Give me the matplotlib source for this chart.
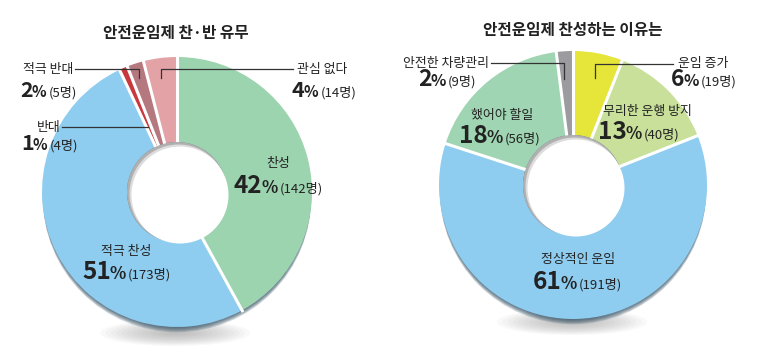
import numpy as np
import matplotlib
matplotlib.use("Agg")
import matplotlib.pyplot as plt
from matplotlib.patches import Ellipse, Circle

plt.rcParams['font.family'] = ['Noto Sans CJK KR', 'DejaVu Sans']

# ---------------- data ----------------
left_title = '안전운임제 찬·반 유무'
left_labels = ['찬성', '적극 찬성', '반대', '적극 반대', '관심 없다']
left_pct = [42, 51, 1, 2, 4]
left_counts = [142, 173, 4, 5, 14]
left_colors = ['#9dd4b0', '#8fcdf0', '#c8383c', '#b5787f', '#e3a3a6']

right_title = '안전운임제 찬성하는 이유는'
right_labels = ['운임 증가', '무리한 운행 방지', '정상적인 운임', '했어야 할일', '안전한 차량관리']
right_pct = [6, 13, 61, 18, 2]
right_counts = [19, 40, 191, 56, 9]
right_colors = ['#e5e53a', '#c8e09a', '#8fcdf0', '#9fd5b2', '#9c9ca0']

W, H = 770, 361
fig = plt.figure(figsize=(W / 100, H / 100), dpi=100)
ax = fig.add_axes([0, 0, 1, 1])
TXT = '#222222'


def Y(y):
    return H - y


def shadow(cx, cy, w, h):
    n = 14
    for i in range(n):
        f = 1 - i / n
        ax.add_patch(Ellipse((cx, Y(cy)), w * f, h * f, color='#8a8a8a',
                             alpha=0.05, lw=0, zorder=0))


def donut(vals, colors, cx, cy, r, rin):
    # darker rim under the donut for a 3D look
    for k in range(1, 7):
        ax.add_patch(Circle((cx, Y(cy + k)), r - 0.8, color='#2c4a5e', alpha=0.2,
                            lw=0, zorder=1))
    wedges, _ = ax.pie(vals, colors=colors, center=(cx, Y(cy)), radius=r, startangle=90,
                       counterclock=False, frame=True,
                       wedgeprops=dict(width=r - rin, linewidth=0, zorder=2))
    # white separators between slices
    for w in wedges:
        a = np.deg2rad(w.theta1)
        ax.plot([cx + (rin - 2) * np.cos(a), cx + (r + 2) * np.cos(a)],
                [Y(cy) + (rin - 2) * np.sin(a), Y(cy) + (r + 2) * np.sin(a)],
                color='white', lw=2.2, solid_capstyle='butt', zorder=3)
    # hole with inner shadow at top-left
    ax.add_patch(Circle((cx, Y(cy)), rin, color='#b0b0b0', lw=0, zorder=4))
    ax.add_patch(Circle((cx + 1.5, Y(cy + 1.5)), rin - 1, color='#dcdcdc', lw=0, zorder=4))
    ax.add_patch(Circle((cx + 3, Y(cy + 3)), rin - 1.5, color='white', lw=0, zorder=4))


def value_label(x, ybase, pct, cnt, size):
    r = fig.canvas.get_renderer()
    inv = ax.transData.inverted()
    t1 = ax.text(x, Y(ybase), f'{pct}', fontsize=size, weight='bold', color=TXT,
                 ha='left', va='baseline', zorder=5)
    bb = t1.get_window_extent(r)
    x1 = inv.transform((bb.x1, bb.y0))[0]
    t2 = ax.text(x1 - 1, Y(ybase), '%', fontsize=size * 0.7, weight='bold', color=TXT,
                 ha='left', va='baseline', zorder=5)
    bb = t2.get_window_extent(r)
    x2 = inv.transform((bb.x1, bb.y0))[0]
    ax.text(x2 + 2, Y(ybase), f'({cnt}명)', fontsize=9.5, color=TXT,
            ha='left', va='baseline', zorder=5)


def name(x, y, s, ha='left'):
    ax.text(x, Y(y), s, fontsize=9.3, color=TXT, ha=ha, va='center', zorder=5)


def leader(pts):
    xs = [p[0] for p in pts]
    ys = [Y(p[1]) for p in pts]
    ax.plot(xs, ys, color='#333333', lw=0.9, zorder=6)


# ---------------- donuts ----------------
shadow(175, 333, 150, 26)
donut(left_pct, left_colors, 177, 192, 135, 50)
shadow(572, 322, 150, 26)
donut(right_pct, right_colors, 573, 185, 134, 50)

ax.set_xlim(0, W)
ax.set_ylim(0, H)
ax.set_aspect('auto')
ax.axis('off')

# ---------------- left labels ----------------
ax.text(176, Y(33), left_title, fontsize=11.3, weight='bold', color=TXT,
        ha='center', va='center')
name(278, 164, left_labels[0], ha='center')
value_label(234, 193, left_pct[0], left_counts[0], 17.5)
name(126, 251, left_labels[1], ha='center')
value_label(82, 279, left_pct[1], left_counts[1], 17.5)
name(37, 127, left_labels[2])
value_label(21, 150, left_pct[2], left_counts[2], 15.5)
leader([(62, 127), (148, 127)])
name(23, 70, left_labels[3])
value_label(20, 97, left_pct[3], left_counts[3], 15.5)
leader([(75, 69), (139, 69), (139, 78)])
name(297, 69, left_labels[4])
value_label(292, 97, left_pct[4], left_counts[4], 15.5)
leader([(293, 69), (161, 69), (161, 78)])

# ---------------- right labels ----------------
ax.text(573, Y(30), right_title, fontsize=11.3, weight='bold', color=TXT,
        ha='center', va='center')
name(678, 63, right_labels[0])
value_label(671, 86, right_pct[0], right_counts[0], 16.5)
leader([(673, 64), (595, 64), (595, 78)])
name(603, 112, right_labels[1])
value_label(598, 139, right_pct[1], right_counts[1], 17.5)
name(578, 260, right_labels[2], ha='center')
value_label(533, 289, right_pct[2], right_counts[2], 17.5)
name(502, 115, right_labels[3], ha='center')
value_label(459, 143, right_pct[3], right_counts[3], 17.5)
name(403, 63, right_labels[4])
value_label(418, 86, right_pct[4], right_counts[4], 16.5)
leader([(491, 63), (564, 63), (564, 79)])

fig.savefig('out.png', dpi=100, facecolor='white')
